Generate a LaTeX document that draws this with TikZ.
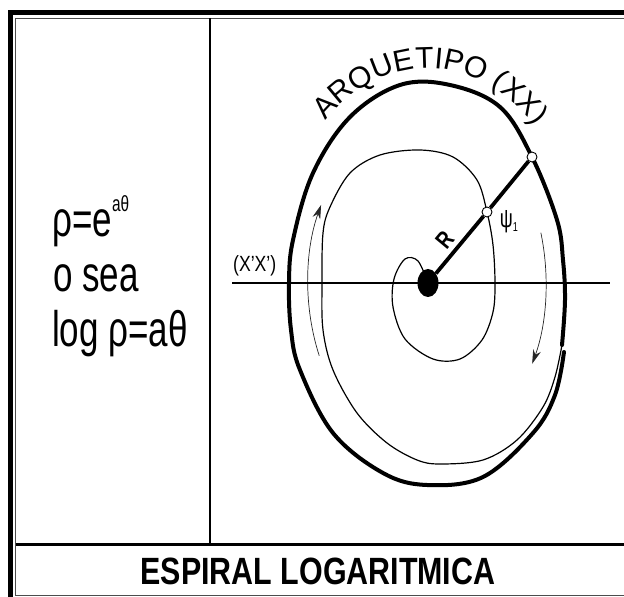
\documentclass[tikz,border=0pt]{standalone}
\usepackage{fontspec}
\setmainfont{Liberation Sans}
\newfontfamily\tallsans[FakeStretch=0.7]{Liberation Sans}
\newfontfamily\narrowsans[FakeStretch=0.8]{Liberation Sans}
\usetikzlibrary{arrows.meta,shapes.geometric,decorations.text}

\begin{document}
\begin{tikzpicture}[x=1pt,y=1pt,
    thickturn/.style={line width=4pt, line cap=round, line join=round},
    thinturn/.style={line width=1.2pt},
    turnarrow/.style={line width=0.7pt, black!85, -{Stealth[length=14pt,width=8pt]}},
    marker/.style={circle, draw, fill=white, line width=0.9pt, minimum size=10pt, inner sep=0pt}]
    \useasboundingbox (0,0) rectangle (624,597);

    % Frame and dividers
    \draw[line width=5pt] (10.5,-5) -- (10.5,584) -- (630,584);
    \draw[line width=0.8pt, black!70] (630,2) -- (15.5,2) -- (15.5,579) -- (630,579);
    \draw[line width=1.4pt] (210,579) -- (210,52);
    \draw[line width=3pt] (15.5,52) -- (630,52);

    % Caption
    \node[anchor=base] (title) at (318,12) {\narrowsans\bfseries\fontsize{38}{38}\selectfont ESPIRAL LOGARITMICA};

    % Formulas on the left
    \node[anchor=base west, inner sep=0pt] (rhoeq) at (52,360) {\tallsans\fontsize{50}{50}\selectfont ρ=e\raisebox{25pt}{\fontsize{22}{22}\selectfont aθ}};
    \node[anchor=base west, inner sep=0pt] (osea) at (53,305) {\tallsans\fontsize{50}{50}\selectfont o sea};
    \node[anchor=base west, inner sep=0pt] (logeq) at (52,250) {\tallsans\fontsize{50}{50}\selectfont log ρ=aθ};

    % Thin spiral
    \draw[thinturn] plot[smooth, tension=0.55] coordinates {(428,314) (418,336) (405,338) (394,318) (393,290)
        (405,258) (433,238) (460,238) (482,257) (493,285) (495,314) (493,352)
        (487,385) (477,417) (453,440) (420,447) (380,442) (350,424) (330,390) (323,364) (322,314) (323,267)
        (333,227) (357,184) (387,154) (417,137) (440,133) (483,137) (517,157) (543,190) (555,220) (562,252)};

    % Thick archetype turn
    \draw[thickturn] plot[smooth, tension=0.6] coordinates {(562,252) (565,297) (563,337) (557,377) (532,440)
        (500,490) (450,512) (400,512) (350,480) (313,424) (293,357) (289,314) (291,267) (300,227) (333,164)
        (383,124) (427,112) (483,120) (533,164) (555,202) (564,245)};

    % Direction arrows
    \draw[turnarrow] ([shift={(205:120 and 172)}]428,314) arc[start angle=205, end angle=153, x radius=120, y radius=172];
    \draw[turnarrow] ([shift={(17:118 and 172)}]428,314) arc[start angle=17, end angle=-28, x radius=118, y radius=172];

    % Axis
    \draw[line width=1.5pt] (232,314) -- (610,314);
    \node[anchor=base west, inner sep=0pt] (axislabel) at (233,325) {\narrowsans\fontsize{22}{22}\selectfont (X’X’)};

    % Curved title
    \path[decorate, decoration={text along path, text align=center,
        text={|\fontsize{30}{30}\selectfont|ARQUETIPO (XX)}}]
        ([shift={(138:156 and 215)}]428,314) arc[start angle=138, end angle=40, x radius=156, y radius=215];

    % Pole, points and radius
    \node[ellipse, fill, minimum width=21pt, minimum height=28pt, inner sep=0pt] (pole) at (428,314) {};
    \node[marker] (inner) at (487,385) {};
    \node[marker] (outer) at (532,440) {};
    \draw[line width=3.8pt] (pole) -- node[sloped, above=1pt, pos=0.42] (rlabel) {\narrowsans\bfseries\fontsize{24}{24}\selectfont R} (inner);
    \draw[line width=3.8pt] (inner) -- (outer);
    \node (psilabel) at (509,375) {\tallsans\fontsize{26}{26}\selectfont ψ\raisebox{-4pt}{\fontsize{13}{13}\selectfont 1}};
\end{tikzpicture}
\end{document}
